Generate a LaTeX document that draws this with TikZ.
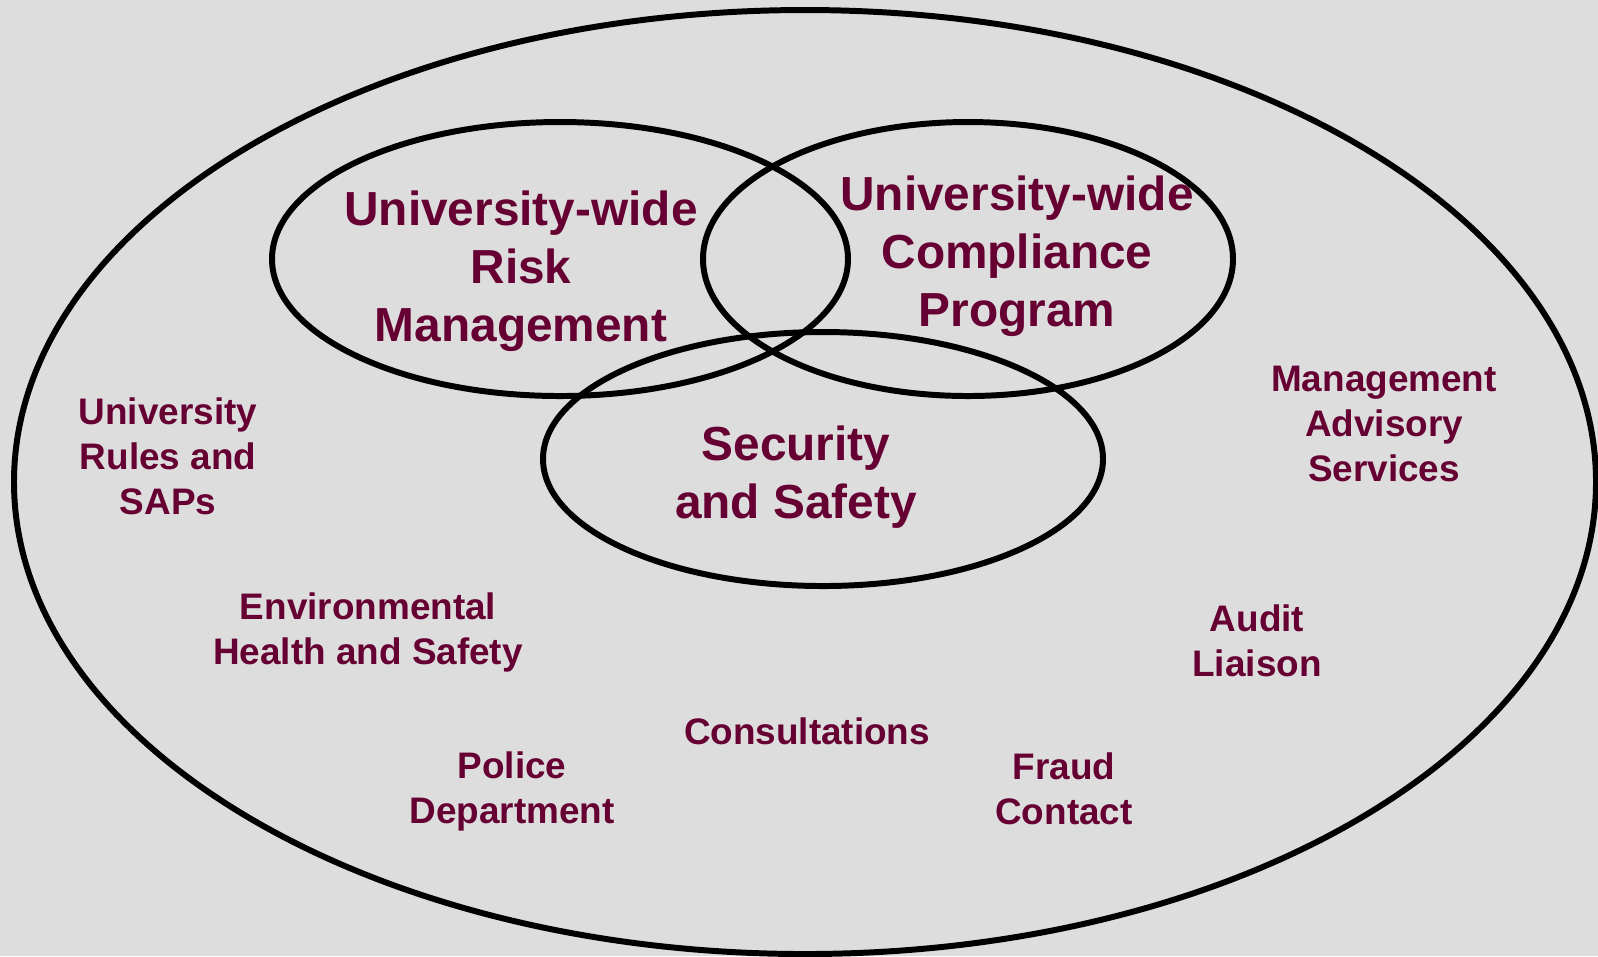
\documentclass[tikz,border=0pt]{standalone}
\usepackage{fontspec}
\setmainfont{Liberation Sans}
\usetikzlibrary{positioning}

\definecolor{uniMaroon}{HTML}{660033}
\definecolor{slideGray}{HTML}{DDDDDD}

\begin{document}
\begin{tikzpicture}[x=0.1mm, y=-0.1mm]
    \tikzstyle{ring} = [draw=black, line width=1.7pt]
    \tikzstyle{bigLabel} = [text=uniMaroon, align=center, font=\bfseries\fontsize{13.6}{16.5}\selectfont]
    \tikzstyle{smallLabel} = [text=uniMaroon, align=center, font=\bfseries\fontsize{10.5}{12.8}\selectfont]

    % slide background
    \fill[slideGray] (0,0) rectangle (1598,956);
    \useasboundingbox (0,0) rectangle (1598,956);

    % the rings
    \draw[ring] (805,482) ellipse [x radius=791, y radius=472];
    \draw[ring] (560,259) ellipse [x radius=288, y radius=137];
    \draw[ring] (968,259) ellipse [x radius=265, y radius=137];
    \draw[ring] (823,459) ellipse [x radius=280, y radius=127];

    \node[bigLabel] (riskText) at (521,271) {University-wide\\Risk\\Management};
    \node[bigLabel] (complianceText) at (1017,256) {University-wide\\Compliance\\Program};
    \node[bigLabel] (securityText) at (796,477) {Security\\and Safety};

    \node[smallLabel] (rulesText) at (168,456) {University\\Rules and\\SAPs};
    \node[smallLabel] (ehsText) at (368,632) {Environmental\\Health and Safety};
    \node[smallLabel] (masText) at (1384,424) {Management\\Advisory\\Services};
    \node[smallLabel] (auditText) at (1257,641) {Audit\\Liaison};
    \node[smallLabel] (consultText) at (807,731) {Consultations};
    \node[smallLabel] (policeText) at (512,791) {Police\\Department};
    \node[smallLabel] (fraudText) at (1064,789) {Fraud\\Contact};
\end{tikzpicture}
\end{document}
